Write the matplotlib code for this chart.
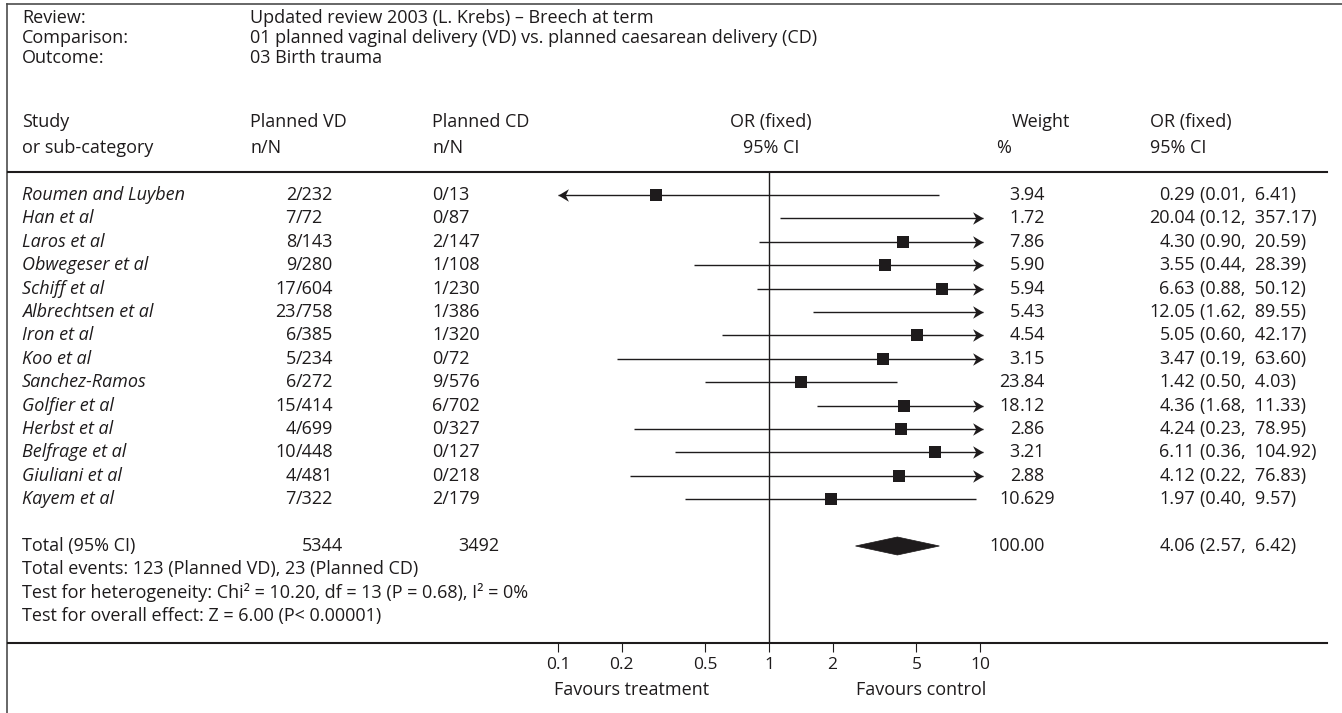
import numpy as np
import matplotlib
matplotlib.use("Agg")
import matplotlib.pyplot as plt
from matplotlib.path import Path
from matplotlib.patches import Polygon

plt.rcParams.update({"font.family": ["Open Sans", "DejaVu Sans"], "font.size": 13})

# ---------------------------------------------------------------- data
studies = ["Roumen and Luyben", "Han et al", "Laros et al", "Obwegeser et al",
           "Schiff et al", "Albrechtsen et al", "Iron et al", "Koo et al",
           "Sanchez-Ramos", "Golfier et al", "Herbst et al", "Belfrage et al",
           "Giuliani et al", "Kayem et al"]
vd_n = [2, 7, 8, 9, 17, 23, 6, 5, 6, 15, 4, 10, 4, 7]
vd_N = [232, 72, 143, 280, 604, 758, 385, 234, 272, 414, 699, 448, 481, 322]
cd_n = [0, 0, 2, 1, 1, 1, 1, 0, 9, 6, 0, 0, 0, 2]
cd_N = [13, 87, 147, 108, 230, 386, 320, 72, 576, 702, 327, 127, 218, 179]
weight = ["3.94", "1.72", "7.86", "5.90", "5.94", "5.43", "4.54", "3.15",
          "23.84", "18.12", "2.86", "3.21", "2.88", "10.629"]
or_est = [0.29, 20.04, 4.30, 3.55, 6.63, 12.05, 5.05, 3.47, 1.42, 4.36, 4.24, 6.11, 4.12, 1.97]
ci_lo = [0.01, 0.12, 0.90, 0.44, 0.88, 1.62, 0.60, 0.19, 0.50, 1.68, 0.23, 0.36, 0.22, 0.40]
ci_hi = [6.41, 357.17, 20.59, 28.39, 50.12, 89.55, 42.17, 63.60, 4.03, 11.33,
         78.95, 104.92, 76.83, 9.57]
# the source figure draws the Han et al line from about 1.13, not from the printed 0.12
line_lo = list(ci_lo)
line_lo[1] = 1.13
total_w = "100.00"
total_or, total_lo, total_hi = 4.06, 2.57, 6.42
ticks = [0.1, 0.2, 0.5, 1, 2, 5, 10]
tick_labels = ["0.1", "0.2", "0.5", "1", "2", "5", "10"]

header = [("Review:", "Updated review 2003 (L. Krebs) \u2013 Breech at term"),
          ("Comparison:", "01 planned vaginal delivery (VD) vs. planned caesarean delivery (CD)"),
          ("Outcome:", "03 Birth trauma")]
tests = ["Total events: %d (Planned VD), %d (Planned CD)" % (sum(vd_n), sum(cd_n)),
         "Test for heterogeneity: Chi\u00b2 = 10.20, df = 13 (P = 0.68), I\u00b2 = 0%",
         "Test for overall effect: Z = 6.00 (P< 0.00001)"]

# ---------------------------------------------------------------- layout (pixels)
W, H = 1342, 713
INK = "#1e1b1c"
ROW0, ROWH = 195, 23.4
X_ONE, PX_DEC = 769, 211          # pixel of OR=1, pixels per decade
AX_L, AX_R, AX_T, AX_B = 540, 1000, 172, 643
ARROW_LO, ARROW_HI = 0.1, 10.3


def row_y(i):
    return ROW0 + i * ROWH


fig = plt.figure(figsize=(W / 100, H / 100), dpi=100)
tx = fig.add_axes([0, 0, 1, 1])
tx.set_xlim(0, W); tx.set_ylim(H, 0); tx.axis("off")

fa = fig.add_axes([AX_L / W, 1 - AX_B / H, (AX_R - AX_L) / W, (AX_B - AX_T) / H])
fa.set_xscale("log")
fa.set_xlim(10 ** ((AX_L - X_ONE) / PX_DEC), 10 ** ((AX_R - X_ONE) / PX_DEC))
fa.set_ylim(AX_B, AX_T)
fa.patch.set_visible(False)
for s in fa.spines.values():
    s.set_visible(False)
fa.set_xticks(ticks)
fa.set_xticklabels(tick_labels)
fa.xaxis.set_minor_locator(matplotlib.ticker.NullLocator())
fa.tick_params(axis="x", direction="out", length=6.5, width=0.8, color=INK,
               labelcolor=INK, pad=3.5, labelsize=12.5)
fa.set_yticks([])

# frame and rules
tx.plot([7, 7], [4, H], color="#4d4d4d", lw=1.2)
tx.plot([7, W], [4, 4], color="#4d4d4d", lw=1.2)
tx.plot([8, 1327], [AX_T, AX_T], color=INK, lw=1.5)
tx.plot([8, 1327], [AX_B, AX_B], color=INK, lw=1.5)

# header block
for k, (lab, val) in enumerate(header):
    y = 18 + k * 20
    tx.text(22, y, lab, va="center", color=INK)
    tx.text(250, y, val, va="center", color=INK)

for y, cols in [(122, ["Study", "Planned VD", "Planned CD", "OR (fixed)", "Weight", "OR (fixed)"]),
                (148, ["or sub-category", "n/N", "n/N", "95% CI", "%", "95% CI"])]:
    tx.text(22, y, cols[0], va="center", color=INK)
    tx.text(250, y, cols[1], va="center", color=INK)
    tx.text(432, y, cols[2], va="center", color=INK)
    tx.text(771, y, cols[3], va="center", ha="center", color=INK)
    tx.text(1012 if cols[4] == "Weight" else 996, y, cols[4], va="center", color=INK)
    tx.text(1150, y, cols[5], va="center", color=INK)

# arrow head markers (tip at the data point)
right_head = Path([(0, 0), (-1, 0.6), (-0.7, 0), (-1, -0.6), (0, 0)],
                  [Path.MOVETO, Path.LINETO, Path.LINETO, Path.LINETO, Path.CLOSEPOLY])
left_head = Path([(0, 0), (1, 0.6), (0.7, 0), (1, -0.6), (0, 0)],
                 [Path.MOVETO, Path.LINETO, Path.LINETO, Path.LINETO, Path.CLOSEPOLY])

fa.axvline(1, color=INK, lw=1.0)

for i, name in enumerate(studies):
    y = row_y(i)
    tx.text(22, y, name, va="center", style="italic", color=INK)
    tx.text(296, y, str(vd_n[i]), va="center", ha="right", color=INK)
    tx.text(296, y, "/%d" % vd_N[i], va="center", ha="left", color=INK)
    tx.text(432, y, "%d/%d" % (cd_n[i], cd_N[i]), va="center", color=INK)
    ip, fp = weight[i].split(".")
    tx.text(1020, y, ip, va="center", ha="right", color=INK)
    tx.text(1020, y, "." + fp, va="center", ha="left", color=INK)
    tx.text(1195, y, "%.2f" % or_est[i], va="center", ha="right", color=INK)
    tx.text(1200, y, "(%.2f,  %.2f)" % (ci_lo[i], ci_hi[i]), va="center", ha="left", color=INK)

    lo = max(line_lo[i], ARROW_LO)
    hi = min(ci_hi[i], ARROW_HI)
    fa.plot([lo, hi], [y, y], color=INK, lw=1.0, solid_capstyle="butt")
    if line_lo[i] < ARROW_LO:
        fa.plot([ARROW_LO], [y], marker=left_head, ms=15, color=INK, mew=0)
    if ci_hi[i] > 10:
        fa.plot([ARROW_HI], [y], marker=right_head, ms=15, color=INK, mew=0)
    if 0.1 <= or_est[i] <= 10:
        fa.plot([or_est[i]], [y], marker="s", ms=9, color=INK, mew=0)

# total row
yt = row_y(15)
tx.text(22, yt, "Total (95% CI)", va="center", color=INK)
tx.text(302, yt, str(sum(vd_N)), va="center", color=INK)
tx.text(458, yt, str(sum(cd_N)), va="center", color=INK)
ip, fp = total_w.split(".")
tx.text(1020, yt, ip, va="center", ha="right", color=INK)
tx.text(1020, yt, "." + fp, va="center", ha="left", color=INK)
tx.text(1195, yt, "%.2f" % total_or, va="center", ha="right", color=INK)
tx.text(1200, yt, "(%.2f,  %.2f)" % (total_lo, total_hi), va="center", ha="left", color=INK)
dh = 9
fa.add_patch(Polygon([(total_lo, yt), (total_or, yt - dh), (total_hi, yt), (total_or, yt + dh)],
                     closed=True, facecolor=INK, edgecolor=INK, lw=0.5))

for k, line in enumerate(tests):
    tx.text(22, row_y(16 + k), line, va="center", color=INK)

tx.text(632, 690, "Favours treatment", va="center", ha="center", color=INK)
tx.text(921, 690, "Favours control", va="center", ha="center", color=INK)

fig.savefig("out.png", dpi=100)
